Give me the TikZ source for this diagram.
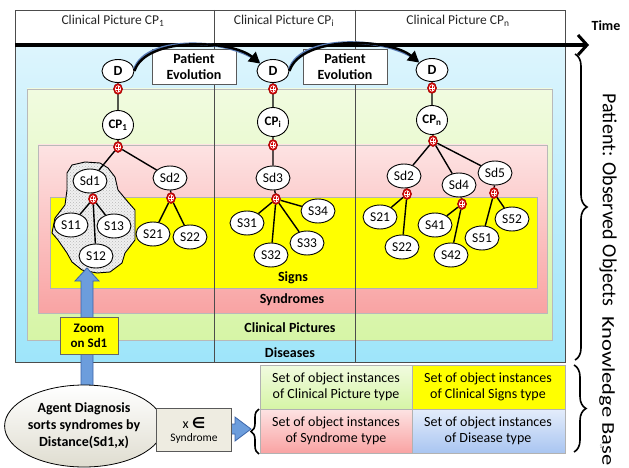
\documentclass[tikz,border=0pt]{standalone}
\usepackage{fontspec}
\setmainfont{Carlito}
\newfontfamily\dejavu{DejaVu Sans}
\usetikzlibrary{shapes.geometric,arrows.meta,decorations.pathreplacing,patterns,calc}
\definecolor{dzTop}{HTML}{DDF5FD}
\definecolor{dzBot}{HTML}{9EE5FA}
\definecolor{cpTop}{HTML}{F1FBE0}
\definecolor{cpBot}{HTML}{D6F5A6}
\definecolor{sdTop}{HTML}{FDE3E3}
\definecolor{sdBot}{HTML}{F9A3A3}
\definecolor{sgYel}{HTML}{FFFF00}
\definecolor{arrBlue}{HTML}{6C9DDC}
\definecolor{arrEdge}{HTML}{3B64A8}
\definecolor{juncRed}{HTML}{D40000}
\definecolor{bxGray}{HTML}{EEECE1}
\definecolor{cream}{HTML}{F7F4E4}
\definecolor{kbBlueTop}{HTML}{E4EDFB}
\definecolor{kbBlueBot}{HTML}{A9C5F1}
\tikzset{
  fs/.style={font=\fontsize{#1}{#1}\selectfont},
  obj/.style={ellipse, draw=black, line width=0.9pt, fill=white, inner sep=0pt,
    minimum width=34pt, minimum height=24pt, fs=13.5},
  dnode/.style={obj, minimum width=32pt, minimum height=23pt, font=\fontsize{14}{14}\selectfont\bfseries},
  cpnode/.style={obj, minimum width=31pt, minimum height=29pt, font=\fontsize{13}{13}\selectfont\bfseries},
  junc/.style={ellipse, fill=juncRed, draw=juncRed!70!black, line width=0.5pt,
    minimum width=9pt, minimum height=11pt, inner sep=0pt,
    path picture={
      \draw[white,line width=0.6pt] (path picture bounding box.center) circle[x radius=2.6pt, y radius=3.4pt];
      \draw[white,line width=0.6pt] ([yshift=3.4pt]path picture bounding box.center) -- ([yshift=-3.4pt]path picture bounding box.center)
        ([xshift=-2.6pt]path picture bounding box.center) -- ([xshift=2.6pt]path picture bounding box.center);}},
  link/.style={line width=1.4pt},
  regionlabel/.style={font=\fontsize{14}{14}\selectfont\bfseries},
  header/.style={fs=13.5, text=black!85},
  evobox/.style={draw=gray!70!black, fill=white, line width=0.6pt, align=center,
    minimum width=84pt, minimum height=35pt, inner sep=1pt, font=\fontsize{14}{16}\selectfont\bfseries},
  kbcell/.style={align=center, font=\fontsize{14}{16}\selectfont},
  evo/.style={line width=2.4pt, -{Triangle[length=11pt,width=12pt]}},
  evoglow/.style={line width=2.6pt, draw=arrEdge!85},
  evobend/.style={out=72, in=140, looseness=0.75},
}
\begin{document}
\begin{tikzpicture}[x=1pt,y=-1pt]
\useasboundingbox (0,0) rectangle (629,468);
% nested regions
\shade[top color=dzTop,bottom color=dzBot] (15,45) rectangle (565,362);
\shadedraw[top color=cpTop,bottom color=cpBot,draw=gray!55] (27,89) rectangle (552,340);
\shadedraw[top color=sdTop,bottom color=sdBot,draw=gray!55] (38,145) rectangle (547,313);
\filldraw[fill=sgYel,draw=gray!60] (50,197) rectangle (537,288);
% frame and columns
\draw[black!70, line width=0.8pt] (15,10) rectangle (565,362);
\draw[black!70, line width=0.8pt] (214,10) -- (214,362) (355,10) -- (355,362);
\node[header] (h1) at (113,21) {Clinical Picture CP\textsubscript{1}};
\node[header] (h2) at (284,21) {Clinical Picture CP\textsubscript{i}};
\node[header] (h3) at (458,21) {Clinical Picture CP\textsubscript{n}};
% time arrow
\coordinate (tA) at (15,45);
\coordinate (tB) at (589,45);
\draw[line width=4pt, -{Straight Barb[length=9pt,width=20pt,line width=3pt]}] (tA) -- (tB);
\node[font=\fontsize{14}{14}\selectfont\bfseries] (time) at (606,26) {Time};
% region labels
\node[regionlabel] (lSigns) at (293,278) {Signs};
\node[regionlabel] (lSynd) at (292,300) {Syndromes};
\node[regionlabel] (lCP) at (290,328) {Clinical Pictures};
\node[regionlabel] (lDis) at (290,353) {Diseases};
% blob
\path[preaction={fill=gray!12}, pattern=crosshatch dots, pattern color=gray!55, draw=black, line width=0.9pt]
  (67,173) -- (72,165) -- (85,162) -- (100,163) -- (108,168) -- (115,177) -- (118,190) -- (128,202)
  -- (135,210) -- (135,240) -- (125,253) -- (122,263) -- (110,272) -- (97,273) -- (82,270) -- (72,262)
  -- (67,253) -- (58,240) -- (52,233) -- (55,218) -- (65,205) -- (67,190) -- cycle;
% column 1 tree
\node[dnode] (D1) at (118,71) {D};
\node[junc] (jD1) at (118,89) {};
\node[cpnode] (CP1) at (118,125) {CP\textsubscript{1}};
\node[junc] (jCP1) at (118,147) {};
\node[obj] (Sd1) at (90,181) {Sd1};
\node[obj] (Sd2a) at (170,178) {Sd2};
\node[junc] (jSd1) at (93,199) {};
\node[junc] (jSd2a) at (171,198) {};
\node[obj] (S11) at (71,225) {S11};
\node[obj] (S13) at (114,226) {S13};
\node[obj] (S12) at (96,256) {S12};
\node[obj] (S21a) at (153,234) {S21};
\node[obj] (S22a) at (190,237) {S22};
\draw[link] (D1) -- (jD1) (jD1) -- (CP1) (CP1) -- (jCP1) (jCP1) -- (Sd1) (jCP1) -- (Sd2a)
  (Sd1) -- (jSd1) (jSd1) -- (S11) (jSd1) -- (S13) (jSd1) -- (S12)
  (Sd2a) -- (jSd2a) (jSd2a) -- (S21a) (jSd2a) -- (S22a);
% column 2 tree
\node[dnode] (Di) at (273,71) {D};
\node[junc] (jDi) at (273,89) {};
\node[cpnode] (CPi) at (273,122) {CP\textsubscript{i}};
\node[junc] (jCPi) at (273,145) {};
\node[obj] (Sd3) at (273,178) {Sd3};
\node[junc] (jSd3) at (276,199) {};
\node[obj] (S31) at (247,223) {S31};
\node[obj] (S34) at (318,211) {S34};
\node[obj] (S33) at (307,243) {S33};
\node[obj] (S32) at (271,255) {S32};
\draw[link] (Di) -- (jDi) (jDi) -- (CPi) (CPi) -- (jCPi) (jCPi) -- (Sd3) (Sd3) -- (jSd3)
  (jSd3) -- (S31) (jSd3) -- (S34) (jSd3) -- (S33) (jSd3) -- (S32);
% column 3 tree
\node[dnode] (Dn) at (432,70) {D};
\node[junc] (jDn) at (432,88) {};
\node[cpnode] (CPn) at (432,120) {CP\textsubscript{n}};
\node[junc] (jCPn) at (433,141) {};
\node[obj] (Sd2n) at (404,176) {Sd2};
\node[obj] (Sd4) at (459,185) {Sd4};
\node[obj] (Sd5) at (495,173) {Sd5};
\node[junc] (jSd2n) at (407,194) {};
\node[junc] (jSd4) at (462,204) {};
\node[junc] (jSd5) at (494,193) {};
\node[obj] (S21n) at (380,217) {S21};
\node[obj] (S22n) at (402,247) {S22};
\node[obj] (S41) at (435,225) {S41};
\node[obj] (S42) at (451,255) {S42};
\node[obj] (S51) at (482,238) {S51};
\node[obj] (S52) at (512,219) {S52};
\draw[link] (Dn) -- (jDn) (jDn) -- (CPn) (CPn) -- (jCPn) (jCPn) -- (Sd2n) (jCPn) -- (Sd4) (jCPn) -- (Sd5)
  (Sd2n) -- (jSd2n) (jSd2n) -- (S21n) (jSd2n) -- (S22n)
  (Sd4) -- (jSd4) (jSd4) -- (S41) (jSd4) -- (S42)
  (Sd5) -- (jSd5) (jSd5) -- (S51) (jSd5) -- (S52);
% patient evolution
\node[evobox] (pe1) at (194,67) {Patient\\Evolution};
\node[evobox] (pe2) at (345,67) {Patient\\Evolution};
\draw[evoglow] ([yshift=1.8pt]D1.east) to[evobend] ([xshift=-1pt,yshift=1.5pt]Di.150);
\draw[evo] (D1.east) to[evobend] (Di.150);
\draw[evoglow] ([yshift=1.8pt]Di.east) to[evobend] ([xshift=-1pt,yshift=1.5pt]Dn.150);
\draw[evo] (Di.east) to[evobend] (Dn.150);
% agent diagnosis and arrows
\fill[arrBlue, draw=arrEdge, line width=0.8pt]
  (81,390) -- (81,281) -- (75,281) -- (87,268) -- (99,281) -- (93,281) -- (93,390) -- cycle;
\fill[arrBlue, draw=arrEdge, line width=0.8pt]
  (148,424) -- (235,424) -- (235,417) -- (251,429) -- (235,441) -- (235,434) -- (148,434) -- cycle;
\node[ellipse, draw=black, line width=0.8pt, top color=white, bottom color=cream!80!gray,
  minimum width=138pt, minimum height=82pt, inner sep=0pt, align=center,
  font=\fontsize{14}{17}\selectfont\bfseries] (agent) at (84,426) {Agent Diagnosis\\sorts syndromes by\\Distance(Sd1,x)};
\node[draw=black!60, fill=sgYel, line width=0.6pt, minimum width=58pt, minimum height=37pt, align=center,
  inner sep=0pt, font=\fontsize{13}{15}\selectfont\bfseries] (zoom) at (89,336) {Zoom\\on Sd1};
\node[draw=gray!70!black, fill=bxGray, line width=0.6pt, minimum width=75pt, minimum height=43pt,
  align=center, inner sep=0pt] (xbox) at (194,430)
  {\fontsize{14}{14}\selectfont x {\dejavu\bfseries\fontsize{15}{15}\selectfont ∈}\\[1pt]\fontsize{11.5}{12}\selectfont Syndrome};
% knowledge base
\shadedraw[top color=cpTop,bottom color=cpBot,draw=gray!60] (260,365) rectangle (412,409);
\filldraw[fill=sgYel,draw=gray!60] (412,365) rectangle (565,409);
\shadedraw[top color=sdTop,bottom color=sdBot,draw=gray!60] (260,409) rectangle (412,453);
\shadedraw[top color=kbBlueTop,bottom color=kbBlueBot,draw=gray!60] (412,409) rectangle (565,453);
\node[kbcell] (kb1) at (336,387) {Set of object instances\\of Clinical Picture type};
\node[kbcell] (kb2) at (488,387) {Set of object instances\\of Clinical Signs type};
\node[kbcell] (kb3) at (336,431) {Set of object instances\\of Syndrome type};
\node[kbcell] (kb4) at (488,431) {Set of object instances\\of Disease type};
% braces
\coordinate (bA) at (575,54);
\coordinate (bB) at (575,360);
\coordinate (bC) at (574,365);
\coordinate (bD) at (574,452);
\coordinate (bE) at (259,454);
\coordinate (bF) at (259,409);
\draw[line width=1.6pt, decorate, decoration={brace, amplitude=12pt}] (bA) -- (bB);
\draw[line width=1.6pt, decorate, decoration={brace, amplitude=12pt}] (bC) -- (bD);
\draw[line width=1.6pt, decorate, decoration={brace, amplitude=8pt}] (bE) -- (bF);
\node[rotate=-90, fs=20] (pobs) at (608,200) {Patient: Observed Objects};
\node[rotate=-90, fs=18] (kbase) at (607,391) {\scalebox{1.25}[1]{Knowledge Base}};
\node[text=gray, fs=6] (pg) at (601,447) {1};
\end{tikzpicture}
\end{document}
